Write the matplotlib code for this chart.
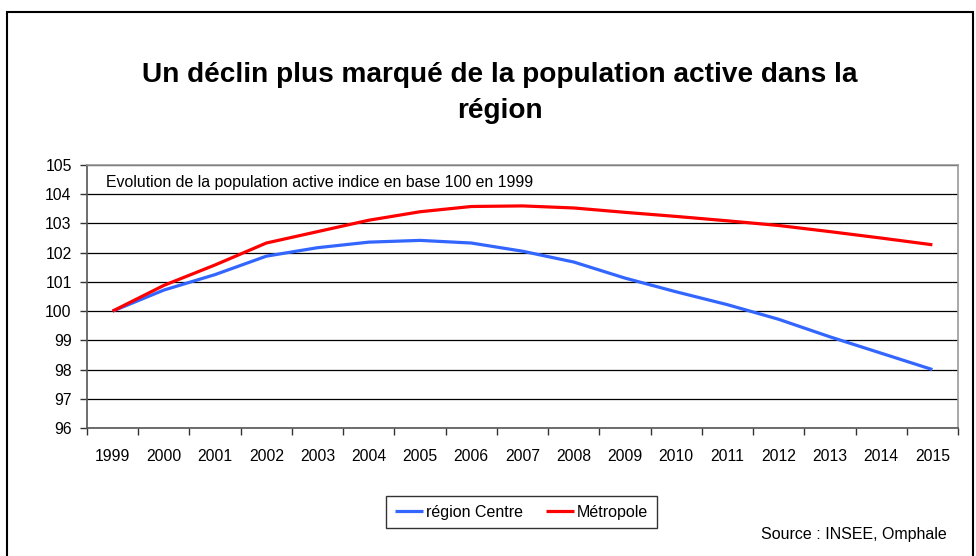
import matplotlib
matplotlib.use("Agg")
import matplotlib.pyplot as plt
from matplotlib.patches import Rectangle
import numpy as np

years = ["1999", "2000", "2001", "2002", "2003", "2004", "2005", "2006", "2007",
         "2008", "2009", "2010", "2011", "2012", "2013", "2014", "2015"]
region_centre = [100.0, 100.72, 101.25, 101.88, 102.17, 102.36, 102.42, 102.33, 102.05,
                 101.68, 101.13, 100.66, 100.22, 99.72, 99.12, 98.56, 98.0]
metropole = [100.0, 100.88, 101.58, 102.33, 102.72, 103.11, 103.4, 103.58, 103.6,
             103.53, 103.38, 103.24, 103.09, 102.93, 102.72, 102.5, 102.27]
y_ticks = [96, 97, 98, 99, 100, 101, 102, 103, 104, 105]

plt.rcParams['font.family'] = ['Liberation Sans', 'DejaVu Sans']

fig = plt.figure(figsize=(9.76, 5.56), dpi=100)
W, H = 976, 556
ax = fig.add_axes([87 / W, 1 - 428 / H, (958 - 87) / W, (428 - 165) / H])

x = np.arange(len(years))
ax.plot(x, region_centre, color="#3366FF", lw=2.3, label="région Centre", solid_capstyle="butt")
ax.plot(x, metropole, color="#FF0000", lw=2.3, label="Métropole", solid_capstyle="butt")

ax.set_xlim(-0.5, len(years) - 0.5)
ax.set_ylim(96, 105)
ax.set_yticks(y_ticks)
ax.set_yticklabels([str(v) for v in y_ticks], fontsize=11.3)
ax.set_xticks(x)
ax.set_xticklabels(years, fontsize=11.3)
ax.set_xticks(np.arange(-0.5, len(years)), minor=True)
ax.tick_params(axis="x", which="major", length=0, pad=15)
ax.tick_params(axis="x", which="minor", length=5, width=1, color="#333333")
ax.tick_params(axis="y", length=5, width=1, color="#333333", pad=6)
ax.yaxis.grid(True, color="black", lw=0.9)
ax.set_axisbelow(True)
for s in ["left", "bottom"]:
    ax.spines[s].set_color("#555555")
    ax.spines[s].set_linewidth(1.2)
for s in ["top", "right"]:
    ax.spines[s].set_color("#999999")
    ax.spines[s].set_linewidth(1.2)

ax.text(106 / W, 1 - 183 / H, "Evolution de la population active indice en base 100 en 1999",
        transform=fig.transFigure, fontsize=11.4, va="center", ha="left")

fig.text(500 / W, 1 - 93 / H, "Un déclin plus marqué de la population active dans la\nrégion",
         ha="center", va="center", fontsize=20.2, fontweight="bold", linespacing=1.52)

leg = ax.legend(loc="center", bbox_to_anchor=(521.5 / W, 1 - 512 / H), bbox_transform=fig.transFigure,
                ncol=2, frameon=True, fancybox=False, edgecolor="black", fontsize=11.5,
                handlelength=1.75, handletextpad=0.2, columnspacing=1.4, borderpad=0.55,
                borderaxespad=0)
leg.get_frame().set_linewidth(1.0)

fig.text(947 / W, 1 - 535 / H, "Source : INSEE, Omphale", ha="right", va="center", fontsize=11.5)

fig.patches.append(Rectangle((7 / W, -0.01), (973 - 7) / W, 1 - 12 / H + 0.01,
                             transform=fig.transFigure, fill=False, edgecolor="black", lw=1.5))

fig.savefig("out.png", dpi=100)
